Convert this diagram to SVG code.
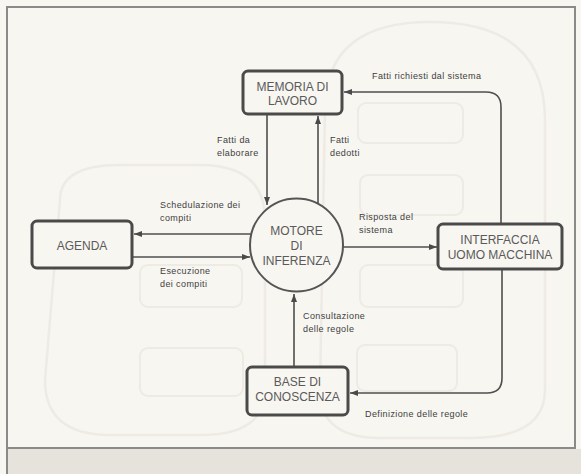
<svg xmlns="http://www.w3.org/2000/svg" width="581" height="474" viewBox="0 0 581 474">
<defs>
<marker id="ah" markerUnits="userSpaceOnUse" markerWidth="8" markerHeight="6" refX="8" refY="3" orient="auto">
<path d="M0,0 L8,3 L0,6 z" fill="#4a4a4a"/>
</marker>
<style>
.bg{fill:#f8f6f1}
.ghost{fill:none;stroke:#eeebe5;stroke-width:2.5}
.gbox{fill:none;stroke:#eeebe5;stroke-width:2}
.frame{fill:none;stroke:#8a8a88;stroke-width:2}
.box{fill:#f8f6f1;stroke:#4a4a4a;stroke-width:3}
.circ{fill:#f8f6f1;stroke:#555;stroke-width:2}
.ntext{font-family:"Liberation Sans",Arial,sans-serif;font-size:12px;fill:#5a5a5a;text-anchor:middle}
.conn{fill:none;stroke:#4f4f4f;stroke-width:1.6;marker-end:url(#ah)}
.lbl{font-family:"Liberation Sans",Arial,sans-serif;font-size:9px;fill:#3e3e3e;letter-spacing:0.4px}
</style>
</defs>
<rect class="bg" x="0" y="0" width="581" height="474"/>
<g id="ghost-background">
<path class="ghost" d="M60,200 Q60,165 120,165 L200,165 Q265,165 265,220 L265,390 Q265,435 200,435 L110,435 Q45,435 45,380 Z"/>
<path class="ghost" d="M325,110 Q325,22 430,22 Q545,22 545,120 L545,390 Q545,438 470,438 L380,438 Q320,438 320,390 Z"/>
<rect class="gbox" x="358" y="103" width="105" height="40" rx="8"/>
<rect class="gbox" x="360" y="175" width="103" height="40" rx="8"/>
<rect class="gbox" x="360" y="265" width="103" height="42" rx="8"/>
<rect class="gbox" x="357" y="345" width="100" height="46" rx="8"/>
<rect class="gbox" x="140" y="265" width="102" height="42" rx="8"/>
<rect class="gbox" x="140" y="348" width="103" height="48" rx="8"/>
</g>
<rect class="frame" x="7" y="7" width="568" height="441"/>
<rect x="8" y="449" width="573" height="25" fill="#e6e2dc"/>
<line x1="7" y1="448" x2="7" y2="474" stroke="#8a8a88" stroke-width="2"/>
<g id="connectors">
<path class="conn" d="M267,114 V205"/>
<path class="conn" d="M318,203 V116"/>
<path class="conn" d="M501,224 V107 Q501,92 486,92 H344"/>
<path class="conn" d="M502,269 V378 Q502,393 487,393 H350"/>
<path class="conn" d="M294,367 V294"/>
<path class="conn" d="M251,234 H134"/>
<path class="conn" d="M133,257 H250"/>
<path class="conn" d="M343,247 H437"/>
</g>
<g id="labels">
<text class="lbl" x="217" y="143">Fatti da</text>
<text class="lbl" x="217" y="156">elaborare</text>
<text class="lbl" x="330" y="143">Fatti</text>
<text class="lbl" x="330" y="156">dedotti</text>
<text class="lbl" x="372" y="79">Fatti richiesti dal sistema</text>
<text class="lbl" x="160" y="208">Schedulazione dei</text>
<text class="lbl" x="160" y="221">compiti</text>
<text class="lbl" x="160" y="274">Esecuzione</text>
<text class="lbl" x="160" y="287">dei compiti</text>
<text class="lbl" x="359" y="220">Risposta del</text>
<text class="lbl" x="359" y="233">sistema</text>
<text class="lbl" x="303" y="319">Consultazione</text>
<text class="lbl" x="303" y="332">delle regole</text>
<text class="lbl" x="365" y="417">Definizione delle regole</text>
</g>
<g id="memoria">
<rect class="box" x="243" y="71" width="99" height="43" rx="5"/>
<text class="ntext" x="292.5" y="91">MEMORIA DI</text>
<text class="ntext" x="292.5" y="105">LAVORO</text>
</g>
<g id="motore">
<circle class="circ" cx="296.5" cy="245" r="46.5"/>
<text class="ntext" x="296.5" y="235">MOTORE</text>
<text class="ntext" x="296.5" y="250">DI</text>
<text class="ntext" x="296.5" y="265">INFERENZA</text>
</g>
<g id="agenda">
<rect class="box" x="32" y="221" width="100" height="47" rx="5"/>
<text class="ntext" x="82" y="250">AGENDA</text>
</g>
<g id="interfaccia">
<rect class="box" x="438" y="224" width="124" height="45" rx="5"/>
<text class="ntext" x="500" y="244">INTERFACCIA</text>
<text class="ntext" x="500" y="259">UOMO MACCHINA</text>
</g>
<g id="base">
<rect class="box" x="247" y="367" width="101" height="48" rx="5"/>
<text class="ntext" x="297.5" y="386">BASE DI</text>
<text class="ntext" x="297.5" y="401">CONOSCENZA</text>
</g>
</svg>
